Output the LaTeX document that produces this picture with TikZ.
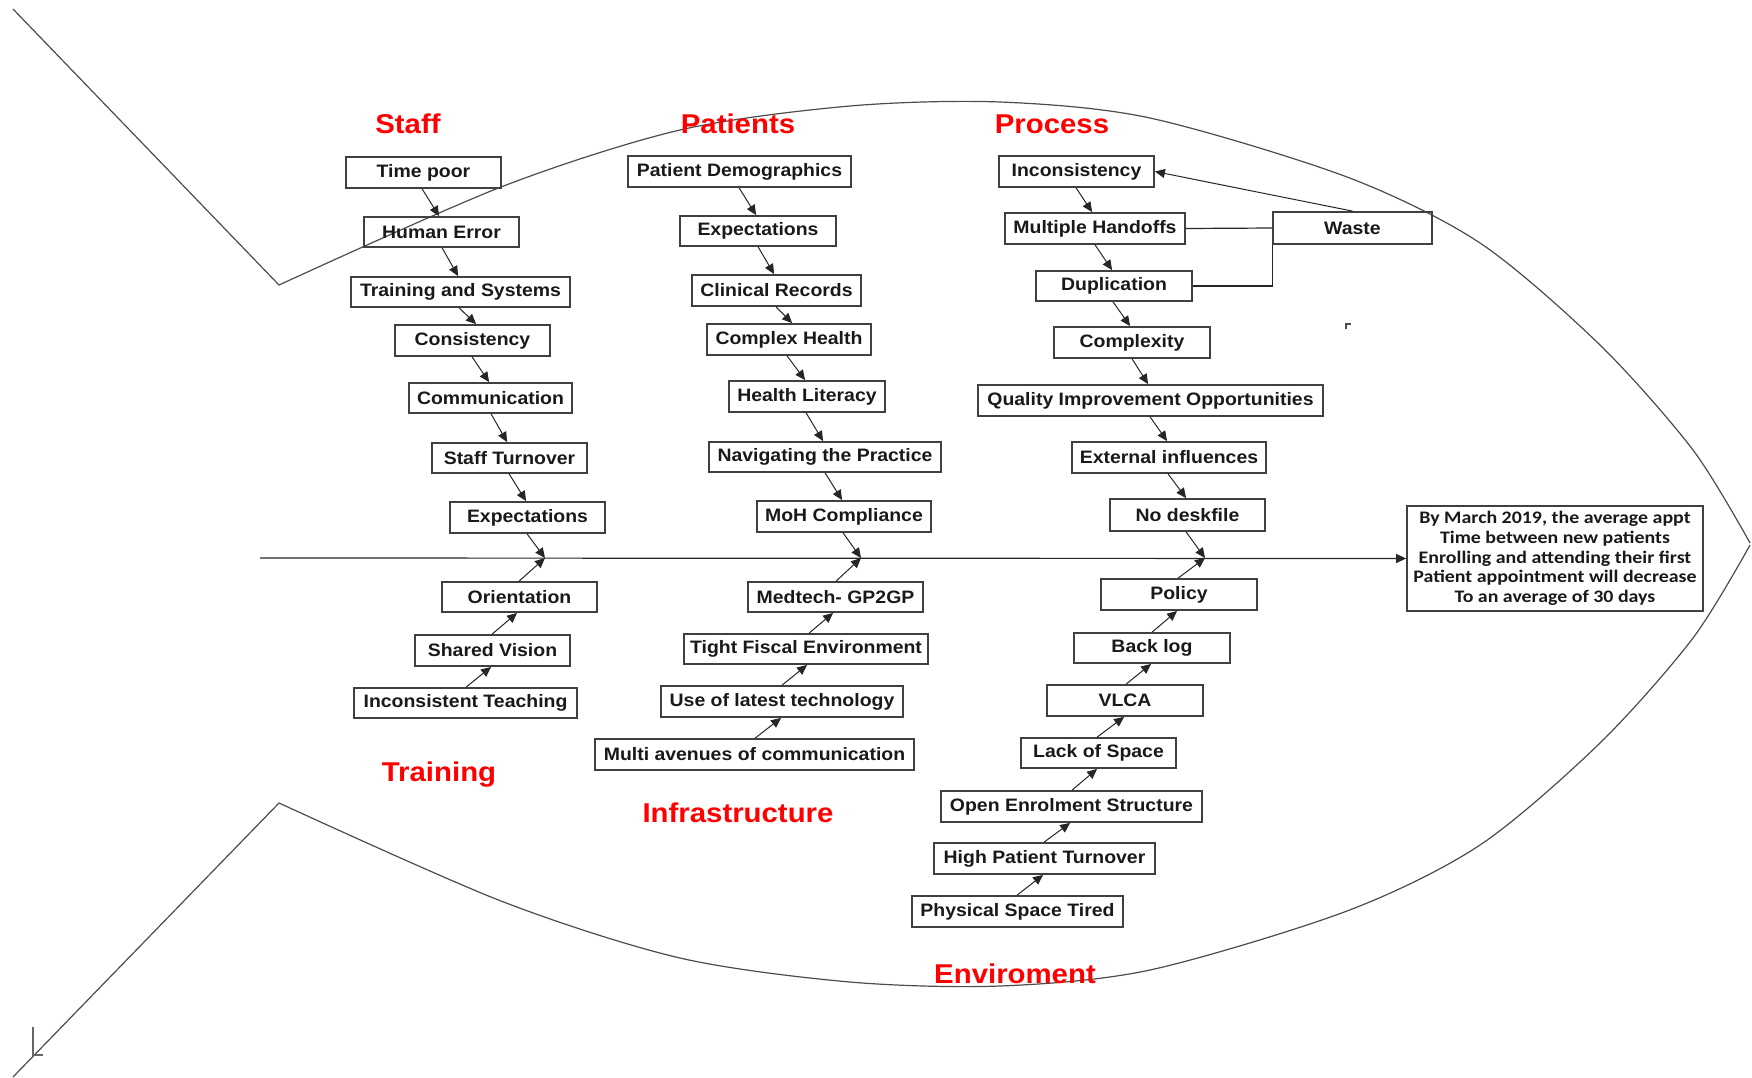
\documentclass[tikz,border=0pt]{standalone}
\usepackage{fontspec}
\setmainfont{Liberation Sans}
\newfontfamily\boxfont[FakeStretch=1.08]{Liberation Sans}
\newfontfamily\goalfont[FakeStretch=1.13]{Carlito}
\usetikzlibrary{calc,arrows.meta}
\tikzset{
  cause/.style={draw=black!75, line width=0.9pt, inner sep=0pt,
    font=\boxfont\bfseries\fontsize{9}{11}\selectfont, text=black!90},
  arr/.style={-{Triangle[length=5pt,width=4.5pt]}, line width=0.5pt, draw=black!85},
  conn/.style={line width=0.6pt, draw=black!85},
  fish/.style={line width=0.6pt, draw=black!70},
  lab/.style={text=red, anchor=base, inner sep=0pt,
    font=\boxfont\bfseries\fontsize{13.6}{16}\selectfont},
  goal/.style={draw=black!75, line width=0.9pt, align=center, inner sep=0pt,
    font=\goalfont\bfseries\fontsize{8.8}{9.8}\selectfont, text=black!90}
}
\newcommand\Bx[6]{\node[cause,minimum width={(#4-#2)*0.5pt},minimum height={(#5-#3)*0.5pt}] (#1) at ({(#2+#4)/2},{(#3+#5)/2}) {#6};}
\newcommand\Dn[4]{\draw[arr] ($(#1.south west)+(#2,0)$) -- ($(#3.north west)+(#4,0)$);}
\newcommand\Up[4]{\draw[arr] ($(#1.north west)+(#2,0)$) -- ($(#3.south west)+(#4,0)$);}
\begin{document}
\begin{tikzpicture}[x=0.5pt,y=-0.5pt]
\useasboundingbox (0,0) rectangle (1752,1077);
% fish outline
\draw[fish] (13,9) -- (279,285);
\draw[fish] (279,803) -- (13,1077);
\draw[fish] plot[smooth] coordinates {(279,285) (501,187) (680,130) (850,106) (1000,102) (1150,118) (1347,177) (1480,243) (1600,345) (1693,450) (1750,543)};
\draw[fish] plot[smooth] coordinates {(279,803) (501,901) (680,958) (850,982) (1000,986) (1150,970) (1347,911) (1480,845) (1600,743) (1693,638) (1750,545)};
\draw[black!60, line width=0.9pt] (33,1027) -- (33,1055) -- (43,1055);
\draw[black!70, line width=0.8pt] (1346,329) -- (1346,324) -- (1351,324);
% labels
\node[lab] (lstaff) at (408,133) {Staff};
\node[lab] (lpat) at (738,133) {Patients};
\node[lab] (lproc) at (1052,133) {Process};
\node[lab] (ltrain) at (439,781) {Training};
\node[lab] (linfra) at (738,822) {Infrastructure};
\node[lab] (lenv) at (1015,983) {Enviroment};
% goal and spine
\node[goal, minimum width=148pt, minimum height=52.5pt] (goal) at (1555,558.5) {By March 2019, the average appt\\Time between new patients\\Enrolling and attending their first\\Patient appointment will decrease\\To an average of 30 days};
\coordinate (s0) at (260,558);
\coordinate (js) at (545,558);
\coordinate (jp) at (861,558);
\coordinate (jr) at (1205,558);
\draw[arr, line width=0.6pt] (s0) -- (goal.west);
% Staff
\Bx{tp}{346}{157}{501}{188}{Time poor}
\Bx{he}{364}{217}{519}{247}{Human Error}
\Bx{ts}{351}{277}{570}{307}{Training and Systems}
\Bx{cons}{395}{325}{550}{356}{Consistency}
\Bx{comm}{409}{383}{572}{413}{Communication}
\Bx{st}{432}{443}{587}{473}{Staff Turnover}
\Bx{exs}{450}{502}{605}{533}{Expectations}
% Training
\Bx{ori}{442}{582}{597}{612}{Orientation}
\Bx{sv}{415}{635}{570}{666}{Shared Vision}
\Bx{it}{354}{688}{577}{718}{Inconsistent Teaching}
% Patients
\Bx{pd}{628}{156}{851}{187}{Patient Demographics}
\Bx{pe}{680}{216}{836}{246}{Expectations}
\Bx{cr}{692}{275}{861}{306}{Clinical Records}
\Bx{ch}{707}{324}{871}{355}{Complex Health}
\Bx{hl}{729}{381}{885}{412}{Health Literacy}
\Bx{np}{709}{442}{941}{472}{Navigating the Practice}
\Bx{moh}{757}{501}{931}{532}{MoH Compliance}
% Infrastructure
\Bx{med}{748}{582}{923}{612}{Medtech- GP2GP}
\Bx{tf}{684}{634}{928}{664}{Tight Fiscal Environment}
\Bx{ul}{661}{686}{903}{717}{Use of latest technology}
\Bx{ma}{595}{739}{914}{770}{Multi avenues of communication}
% Process
\Bx{inc}{999}{156}{1154}{187}{Inconsistency}
\Bx{mh}{1005}{213}{1185}{244}{Multiple Handoffs}
\Bx{dup}{1036}{271}{1192}{301}{Duplication}
\Bx{cx}{1054}{327}{1210}{358}{Complexity}
\Bx{qio}{978}{385}{1323}{416}{Quality Improvement Opportunities}
\Bx{ei}{1072}{442}{1266}{473}{External influences}
\Bx{nd}{1110}{499}{1265}{531}{No deskfile}
\Bx{waste}{1273}{212}{1432}{244}{Waste}
% Environment
\Bx{pol}{1101}{579}{1257}{610}{Policy}
\Bx{bl}{1074}{633}{1230}{663}{Back log}
\Bx{vlca}{1047}{685}{1203}{716}{VLCA}
\Bx{los}{1021}{738}{1176}{768}{Lack of Space}
\Bx{oes}{941}{791}{1202}{822}{Open Enrolment Structure}
\Bx{hpt}{934}{843}{1155}{874}{High Patient Turnover}
\Bx{pst}{912}{896}{1123}{927}{Physical Space Tired}
% arrows: Staff
\Dn{tp}{77}{he}{76}
\Dn{he}{79}{ts}{108}
\Dn{ts}{109}{cons}{82}
\Dn{cons}{78}{comm}{81}
\Dn{comm}{83}{st}{76}
\Dn{st}{78}{exs}{77}
\draw[arr] ($(exs.south west)+(78,0)$) -- (js);
% Training
\draw[arr] ($(ori.north west)+(78,0)$) -- (js);
\Up{sv}{78}{ori}{76}
\Up{it}{113}{sv}{77}
% Patients
\Dn{pd}{112}{pe}{77}
\Dn{pe}{79}{cr}{83}
\Dn{cr}{85}{ch}{86}
\Dn{ch}{81}{hl}{77}
\Dn{hl}{78}{np}{115}
\Dn{np}{117}{moh}{86}
\draw[arr] ($(moh.south west)+(87,0)$) -- (jp);
% Infrastructure
\draw[arr] ($(med.north west)+(89,0)$) -- (jp);
\Up{tf}{126}{med}{86}
\Up{ul}{122}{tf}{124}
\Up{ma}{161}{ul}{121}
% Process
\Dn{inc}{78}{mh}{88}
\Dn{mh}{91}{dup}{77}
\Dn{dup}{78}{cx}{77}
\Dn{cx}{79}{qio}{171}
\Dn{qio}{173}{ei}{96}
\Dn{ei}{97}{nd}{77}
\draw[arr] ($(nd.south west)+(77,0)$) -- (jr);
\draw[conn] (mh.east) -- (waste.west);
\draw[conn] (dup.east) -- (waste.west |- dup.east) -- (waste.south west);
\draw[arr] (waste.north) -- (inc.east);
% Environment
\draw[arr] ($(pol.north west)+(78,0)$) -- (jr);
\Up{bl}{79}{pol}{77}
\Up{vlca}{80}{bl}{78}
\Up{los}{77}{vlca}{78}
\Up{oes}{132}{los}{77}
\Up{hpt}{111}{oes}{130}
\Up{pst}{106}{hpt}{110}
\end{tikzpicture}
\end{document}
